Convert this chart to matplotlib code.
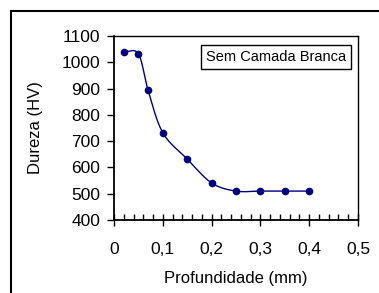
import matplotlib.pyplot as plt
import numpy as np
from matplotlib.patches import Rectangle
from matplotlib.ticker import MultipleLocator, FuncFormatter

plt.rcParams['font.family'] = ['Liberation Sans', 'DejaVu Sans']

# dados
profundidade = [0.02, 0.05, 0.07, 0.10, 0.15, 0.20, 0.25, 0.30, 0.35, 0.40]
dureza = [1040, 1032, 893, 732, 632, 541, 510, 510, 510, 510]
legenda = 'Sem Camada Branca'
cor = '#000080'


def catmull_rom(x, y, n=30):
    # curva suavizada parecida com a do Excel
    x = np.asarray(x, float)
    y = np.asarray(y, float)
    px = np.concatenate([[2 * x[0] - x[1]], x, [2 * x[-1] - x[-2]]])
    py = np.concatenate([[2 * y[0] - y[1]], y, [2 * y[-1] - y[-2]]])
    xs, ys = [], []
    for i in range(1, len(px) - 2):
        t = np.linspace(0, 1, n)
        p0, p1, p2, p3 = px[i - 1], px[i], px[i + 1], px[i + 2]
        q0, q1, q2, q3 = py[i - 1], py[i], py[i + 1], py[i + 2]
        b1x = p1 + (p2 - p0) / 6
        b2x = p2 - (p3 - p1) / 6
        b1y = q1 + (q2 - q0) / 6
        b2y = q2 - (q3 - q1) / 6
        xs.append((1 - t)**3 * p1 + 3 * (1 - t)**2 * t * b1x + 3 * (1 - t) * t**2 * b2x + t**3 * p2)
        ys.append((1 - t)**3 * q1 + 3 * (1 - t)**2 * t * b1y + 3 * (1 - t) * t**2 * b2y + t**3 * q2)
    return np.concatenate(xs), np.concatenate(ys)


fig = plt.figure(figsize=(3.79, 2.93), dpi=100)
fig.patches.append(Rectangle((11 / 379, -0.1), 1.2, 1 - 11 / 293 + 0.1, transform=fig.transFigure,
                             fill=False, edgecolor='black', linewidth=1.5))

ax = fig.add_axes([114 / 379, 1 - 220 / 293, 244 / 379, 184 / 293])
sx, sy = catmull_rom(profundidade, dureza)
ax.plot(sx, sy, color=cor, linewidth=1)
ax.plot(profundidade, dureza, 'o', color=cor, markersize=4.5)

ax.set_xlim(0, 0.5)
ax.set_ylim(400, 1100)
ax.xaxis.set_major_locator(MultipleLocator(0.1))
ax.xaxis.set_minor_locator(MultipleLocator(0.02))
ax.yaxis.set_major_locator(MultipleLocator(100))
ax.xaxis.set_major_formatter(FuncFormatter(lambda v, p: ('%g' % round(v, 2)).replace('.', ',')))
ax.tick_params(axis='x', which='major', direction='inout', length=8, width=1, pad=12, labelsize=12.5)
ax.tick_params(axis='x', which='minor', direction='in', length=4, width=1)
ax.tick_params(axis='y', which='major', direction='out', length=5, width=1, pad=5, labelsize=12.5)
for s in ax.spines.values():
    s.set_linewidth(1)
ax.spines['left'].set_linewidth(1.3)
ax.spines['bottom'].set_linewidth(1.3)

ax.set_xlabel('Profundidade (mm)', fontsize=12, labelpad=10)
ax.set_ylabel('Dureza (HV)', fontsize=12, labelpad=13)

ax.text(0.95, 0.885, legenda, transform=ax.transAxes, ha='right', va='center', fontsize=10.5,
        bbox=dict(boxstyle='square,pad=0.35', facecolor='white', edgecolor='black', linewidth=1))

fig.savefig('out.png', dpi=100)
